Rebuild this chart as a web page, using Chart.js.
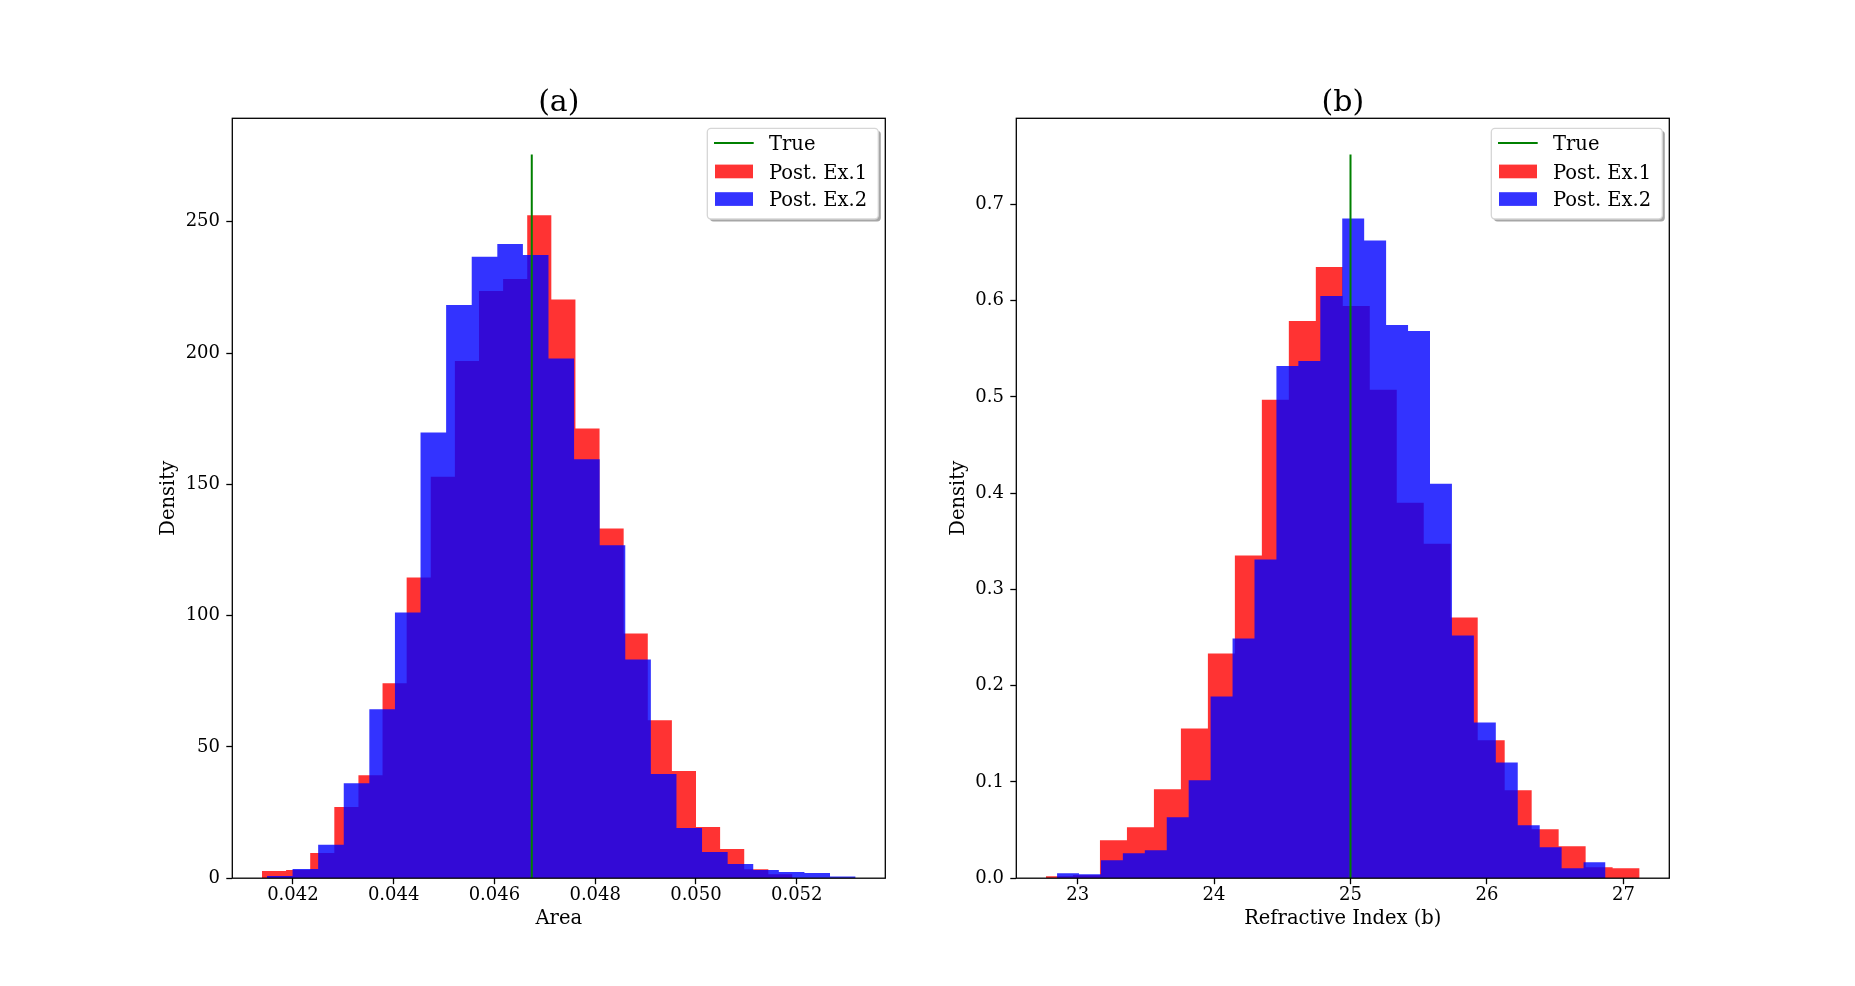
<!DOCTYPE html>
<html><head><meta charset="utf-8">
<script src="https://cdn.jsdelivr.net/npm/chart.js@4.4.1/dist/chart.umd.min.js"></script>
<style>
html,body{margin:0;padding:0;background:#fff;}
body{width:1855px;height:986px;position:relative;overflow:hidden;}
canvas{position:absolute;top:0;}
#ca{left:0;} #cb{left:928px;}
</style></head><body>
<canvas id="ca" width="928" height="986" style="width:928px;height:986px"></canvas>
<canvas id="cb" width="927" height="986" style="width:927px;height:986px"></canvas>
<script>
// ---------------- data ----------------
const seriesNames = ['True', 'Post. Ex.1', 'Post. Ex.2'];
const titleA = '(a)';
const titleB = '(b)';
const xLabelA = 'Area';
const xLabelB = 'Refractive Index (b)';
const yLabel = 'Density';

// panel (a): Area
const trueA = 0.046741;
const trueTopA = 275.6;
const redEdgesA = [0.041386, 0.0418646, 0.0423432, 0.0428218, 0.0433004, 0.043779, 0.0442576, 0.0447362,
  0.0452148, 0.0456934, 0.046172, 0.0466506, 0.0471292, 0.0476078, 0.0480864, 0.048565, 0.0490436,
  0.0495222, 0.0500008, 0.0504794, 0.050958, 0.0514366, 0.0519152];
const redDensA = [2.7, 3.1, 9.6, 27.1, 39.2, 74.2, 114.5, 152.9, 197.0, 223.6, 228.2, 252.5, 220.4,
  171.3, 133.2, 93.2, 60.2, 40.8, 19.5, 11.1, 3.4, 1.5];
const blueEdgesA = [0.041485, 0.041993, 0.042501, 0.043009, 0.043517, 0.044025, 0.044533, 0.045041,
  0.045549, 0.046057, 0.046565, 0.047073, 0.047581, 0.048089, 0.048597, 0.049105, 0.049613, 0.050121,
  0.050629, 0.051137, 0.051645, 0.052153, 0.052661, 0.053169];
const blueDensA = [0.8, 3.5, 12.7, 36.2, 64.3, 101.2, 169.7, 218.3, 236.7, 241.5, 237.3, 197.9, 159.6,
  126.8, 83.3, 39.7, 19.1, 10.0, 5.4, 3.1, 2.4, 2.0, 0.6];
const xTicksA = [0.042, 0.044, 0.046, 0.048, 0.050, 0.052];
const xTickLabelsA = ['0.042', '0.044', '0.046', '0.048', '0.050', '0.052'];
const yTicksA = [0, 50, 100, 150, 200, 250];
const yTickLabelsA = ['0', '50', '100', '150', '200', '250'];
const xRangeA = [0.040797, 0.053758];
const yRangeA = [0, 289.4];

// panel (b): Refractive Index (b)
const trueB = 25.0;
const trueTopB = 0.7518;
const redEdgesB = [22.768, 22.96577, 23.16354, 23.36131, 23.55908, 23.75685, 23.95462, 24.15239,
  24.35016, 24.54793, 24.7457, 24.94347, 25.14124, 25.33901, 25.53678, 25.73455, 25.93232, 26.13009,
  26.32786, 26.52563, 26.7234, 26.92117, 27.11894];
const redDensB = [0.0021, 0.003, 0.0394, 0.0529, 0.0923, 0.1556, 0.2334, 0.3351, 0.4969, 0.5789,
  0.6349, 0.5945, 0.5073, 0.3901, 0.3475, 0.2708, 0.1432, 0.0913, 0.0508, 0.0332, 0.0114, 0.0104];
const blueEdgesB = [22.849, 23.0098, 23.1706, 23.3314, 23.4922, 23.653, 23.8138, 23.9746, 24.1354,
  24.2962, 24.457, 24.6178, 24.7786, 24.9394, 25.1002, 25.261, 25.4218, 25.5826, 25.7434, 25.9042,
  26.065, 26.2258, 26.3866, 26.5474, 26.7082, 26.869];
const blueDensB = [0.0052, 0.0041, 0.0187, 0.0259, 0.0290, 0.0633, 0.1017, 0.1888, 0.2490, 0.3310,
  0.5322, 0.5374, 0.6048, 0.6853, 0.6625, 0.5747, 0.5685, 0.4098, 0.2521, 0.1618, 0.1203, 0.0550,
  0.0322, 0.0104, 0.0166];
const xTicksB = [23, 24, 25, 26, 27];
const xTickLabelsB = ['23', '24', '25', '26', '27'];
const yTicksB = [0, 0.1, 0.2, 0.3, 0.4, 0.5, 0.6, 0.7];
const yTickLabelsB = ['0.0', '0.1', '0.2', '0.3', '0.4', '0.5', '0.6', '0.7'];
const xRangeB = [22.5504, 27.3366];
const yRangeB = [0, 0.7894];

// ---------------- styles ----------------
const FONT = "'DejaVu Serif', serif";
const RED = 'rgba(255,0,0,0.8)';
const BLUE = 'rgba(0,0,255,0.8)';
const GREEN = '#008000';
const TICK_SIZE = 18;
const LABEL_SIZE = 19.5;

function stepPoints(edges, dens) {
  const pts = dens.map((d, i) => ({x: edges[i], y: d}));
  pts.push({x: edges[edges.length - 1], y: dens[dens.length - 1]});
  return pts;
}

const framePlugin = {
  id: 'frame',
  afterDatasetsDraw(chart) {
    const {ctx, chartArea: a} = chart;
    ctx.save();
    ctx.strokeStyle = '#000';
    ctx.lineWidth = 1.3;
    ctx.strokeRect(a.left, a.top, a.right - a.left, a.bottom - a.top);
    ctx.restore();
  }
};

function rr(ctx, x, y, w, h, r) {
  ctx.beginPath();
  ctx.moveTo(x + r, y);
  ctx.lineTo(x + w - r, y);
  ctx.arcTo(x + w, y, x + w, y + r, r);
  ctx.lineTo(x + w, y + h - r);
  ctx.arcTo(x + w, y + h, x + w - r, y + h, r);
  ctx.lineTo(x + r, y + h);
  ctx.arcTo(x, y + h, x, y + h - r, r);
  ctx.lineTo(x, y + r);
  ctx.arcTo(x, y, x + r, y, r);
  ctx.closePath();
}

const boxLegend = {
  id: 'boxLegend',
  afterDraw(chart) {
    const {ctx, chartArea: a} = chart;
    const W = 171, H = 90.7;
    const x = a.right - 7 - W, y = a.top + 10;
    ctx.save();
    rr(ctx, x + 2.5, y + 2.5, W, H, 3.7);
    ctx.fillStyle = 'rgba(77,77,77,0.5)';
    ctx.fill();
    rr(ctx, x, y, W, H, 3.7);
    ctx.fillStyle = '#fff';
    ctx.fill();
    ctx.strokeStyle = '#d6d6d6';
    ctx.lineWidth = 1.3;
    ctx.stroke();
    const rows = [y + 14.6, y + 43.2, y + 70.8];
    ctx.strokeStyle = GREEN;
    ctx.lineWidth = 2;
    ctx.beginPath();
    ctx.moveTo(x + 6.7, rows[0]);
    ctx.lineTo(x + 46.4, rows[0]);
    ctx.stroke();
    ctx.fillStyle = RED;
    ctx.fillRect(x + 7.7, rows[1] - 6.9, 38, 13.7);
    ctx.fillStyle = BLUE;
    ctx.fillRect(x + 7.7, rows[2] - 6.9, 38, 13.7);
    ctx.fillStyle = '#000';
    ctx.font = LABEL_SIZE + 'px ' + FONT;
    ctx.textBaseline = 'alphabetic';
    ctx.textAlign = 'left';
    seriesNames.forEach((n, i) => ctx.fillText(n, x + 61.7, rows[i] + 7.1));
    ctx.restore();
  }
};

function makeChart(id, cfg) {
  const tickFont = {family: FONT, size: TICK_SIZE};
  const labelFont = {family: FONT, size: LABEL_SIZE};
  return new Chart(document.getElementById(id), {
    type: 'line',
    data: {
      datasets: [
        {label: seriesNames[0], data: [{x: cfg.trueX, y: 0}, {x: cfg.trueX, y: cfg.trueTop}],
         borderColor: GREEN, borderWidth: 2, pointRadius: 0, fill: false},
        {label: seriesNames[2], data: stepPoints(cfg.blueEdges, cfg.blueDens), stepped: true,
         fill: 'origin', backgroundColor: BLUE, borderColor: 'rgba(0,0,0,0)', borderWidth: 0, pointRadius: 0},
        {label: seriesNames[1], data: stepPoints(cfg.redEdges, cfg.redDens), stepped: true,
         fill: 'origin', backgroundColor: RED, borderColor: 'rgba(0,0,0,0)', borderWidth: 0, pointRadius: 0}
      ]
    },
    options: {
      responsive: false,
      animation: false,
      devicePixelRatio: 1,
      layout: {padding: cfg.padding},
      plugins: {
        legend: {display: false},
        tooltip: {enabled: false},
        title: {display: true, text: cfg.title, fullSize: false, color: '#000',
          font: {family: FONT, size: 30, weight: 'normal', lineHeight: 1.0},
          padding: {top: 88.1, bottom: 0.2}}
      },
      scales: {
        x: {
          type: 'linear', min: cfg.xRange[0], max: cfg.xRange[1],
          afterFit: s => { s.height = 80; },
          afterBuildTicks: s => { s.ticks = cfg.xTicks.map(v => ({value: v})); },
          ticks: {callback: (v, i) => cfg.xTickLabels[i], font: tickFont, color: '#000',
            autoSkip: false, maxRotation: 0, padding: 0},
          grid: {drawOnChartArea: false, drawTicks: true, tickLength: 6, tickColor: '#000', tickWidth: 1.3},
          border: {display: false},
          title: {display: true, text: cfg.xLabel, color: '#000', font: labelFont,
            padding: {top: 0, bottom: 27.3}}
        },
        y: {
          type: 'linear', min: cfg.yRange[0], max: cfg.yRange[1],
          afterFit: s => { s.width = cfg.yAxisWidth; },
          afterBuildTicks: s => { s.ticks = cfg.yTicks.map(v => ({value: v})); },
          ticks: {callback: (v, i) => cfg.yTickLabels[i], font: tickFont, color: '#000',
            autoSkip: false, padding: 6.3},
          grid: {drawOnChartArea: false, drawTicks: true, tickLength: 6, tickColor: '#000', tickWidth: 1.3},
          border: {display: false},
          title: {display: true, text: yLabel, color: '#000', font: labelFont,
            padding: {top: cfg.yTitlePad, bottom: 0}}
        }
      }
    },
    plugins: [framePlugin, boxLegend]
  });
}

makeChart('ca', {
  title: titleA, xLabel: xLabelA, trueX: trueA, trueTop: trueTopA,
  redEdges: redEdgesA, redDens: redDensA, blueEdges: blueEdgesA, blueDens: blueDensA,
  xTicks: xTicksA, xTickLabels: xTickLabelsA, yTicks: yTicksA, yTickLabels: yTickLabelsA,
  xRange: xRangeA, yRange: yRangeA,
  padding: {left: 132.3, right: 42.7, top: 0, bottom: 27.8},
  yAxisWidth: 100, yTitlePad: 25.2
});
makeChart('cb', {
  title: titleB, xLabel: xLabelB, trueX: trueB, trueTop: trueTopB,
  redEdges: redEdgesB, redDens: redDensB, blueEdges: blueEdgesB, blueDens: blueDensB,
  xTicks: xTicksB, xTickLabels: xTickLabelsB, yTicks: yTicksB, yTickLabels: yTickLabelsB,
  xRange: xRangeB, yRange: yRangeB,
  padding: {left: 8.3, right: 185.7, top: 0, bottom: 27.8},
  yAxisWidth: 80, yTitlePad: 11.1
});
</script>
</body></html>
